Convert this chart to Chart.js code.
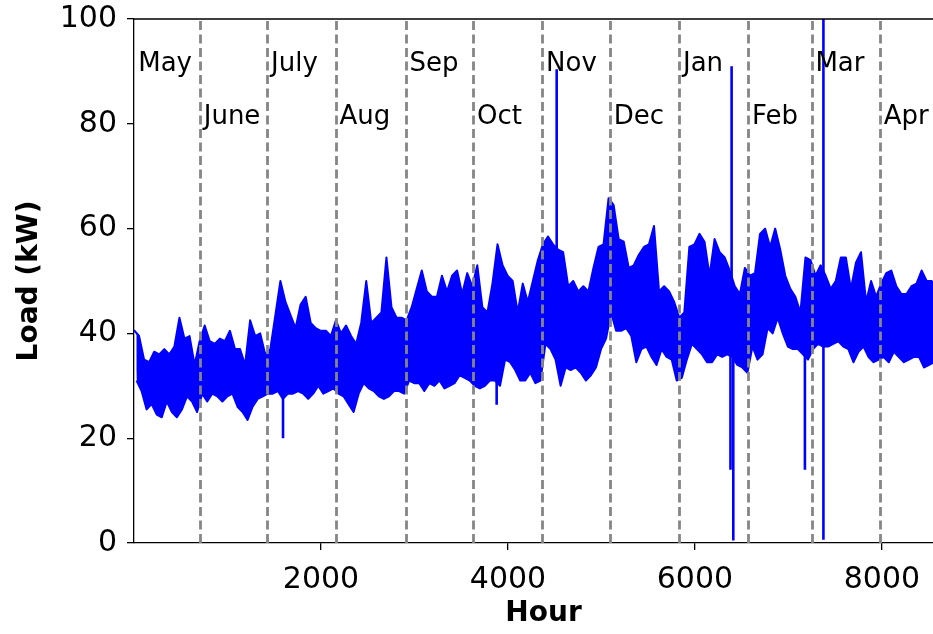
<!DOCTYPE html>
<html>
<head>
<meta charset="utf-8">
<script src="https://cdn.jsdelivr.net/npm/chart.js@4.4.0/dist/chart.umd.min.js"></script>
<style>
  html, body { margin: 0; padding: 0; background: #fff; overflow: hidden; }
  #wrap { width: 960px; height: 634px; }
</style>
</head>
<body>
<div id="wrap"><canvas id="loadChart" width="960" height="634"></canvas></div>
<script>
// Hourly load over one year, read off the plot as the daily high / low band,
// one reading every SAMPLE_STEP hours, plus the few isolated outliers.
const SAMPLE_STEP = 54;

const bandHighs = [
  40.6, 39.5, 35, 34.5, 36.5, 36, 37, 36, 37.5, 43,
  39, 39.5, 34, 38.5, 41.5, 38.5, 38, 39, 38.5, 40.5,
  37, 37, 34, 42.5, 39.5, 40, 36, 37, 43.5, 50,
  46, 43.5, 41, 45.5, 47, 42, 41, 40.5, 40.5, 39.5,
  42.5, 40, 41.5, 39.5, 38, 42, 50, 42, 43, 44,
  54.5, 45, 43, 43, 42.5, 45, 48.5, 52, 48, 47,
  47, 51, 48, 51, 52, 47.5, 51.5, 49, 53, 45,
  44, 49.5, 57, 53, 51, 50, 44, 49.5, 46, 50,
  54, 57, 58.5, 57, 56, 55.5, 49, 50, 48, 49,
  48, 52.5, 56.5, 57, 65.8, 64.5, 58, 57.5, 52.5, 53,
  55, 56.5, 57, 60.5, 48, 49, 48, 46, 43, 44,
  56.5, 57, 59, 57.5, 51, 58, 55.5, 54.5, 52, 49,
  47.5, 52.5, 51, 51.5, 59, 60, 56.5, 60, 56, 51,
  48.5, 47, 44, 54.5, 54, 51, 53, 51, 48.5, 50,
  54.5, 54.5, 48.5, 53.5, 55.5, 46, 50, 47, 49.5, 51.5,
  52, 49, 47.5, 47.5, 49, 49.5, 52, 50, 50, 48,
  47, 49
];

const bandLows = [
  31, 29, 25.5, 26.5, 24.5, 24, 27, 25, 24, 25.5,
  28, 27, 25, 28.5, 27, 28.5, 28, 27, 28, 28.5,
  26, 25, 23.5, 26, 27.5, 28, 28.5, 28.5, 29, 27.5,
  28.5, 28.5, 29, 28.5, 27.5, 28.5, 30, 28.5, 29, 29.5,
  28.5, 28, 26.5, 25, 28.5, 30.5, 29.5, 29, 28, 27.5,
  28, 29, 29, 28.5, 31, 30.5, 30.5, 29, 30.5, 30,
  31, 29.5, 30, 30.5, 32, 31.5, 31, 30, 29.5, 30,
  31, 31, 30, 35, 34.5, 33, 31, 31, 32.5, 30.5,
  31, 38, 37, 35, 30, 33.5, 33, 33.5, 32.5, 31,
  32, 33.5, 37, 39, 44, 40.5, 40.5, 41, 39.5, 34.5,
  37, 37.5, 35.5, 34, 37, 35.5, 35, 31, 31.5, 35,
  38, 37, 36, 34.5, 34.5, 36, 35.5, 36, 35.5, 34,
  33.5, 32.5, 37.5, 35, 36, 41, 40, 43, 40, 37.5,
  37, 37, 36, 35, 37, 38, 37.5, 37.5, 38, 38.5,
  37.5, 37, 34.5, 36.5, 37.5, 35.5, 34.5, 35, 35.5, 34.5,
  36.5, 35.5, 34.5, 35, 35.5, 35.5, 33.5, 34, 34.5, 35,
  34.5, 35
];

// isolated outliers: hour, band value they leave from, value they reach
const spikeHours = [1594, 3879, 4521, 6380, 6392, 6410, 7176, 7374];
const spikeFrom = [30, 32, 55, 38, 50, 38, 38, 105];
const spikeTo = [20, 26.4, 90.4, 14, 91, 0.5, 14, 0.6];

// month boundaries (hour) and the month names written beside them
const monthLines = [706, 1426, 2157, 2906, 3629, 4367, 5091, 5832, 6570, 7248, 7979];
const monthNames = ['May', 'June', 'July', 'Aug', 'Sep', 'Oct', 'Nov', 'Dec', 'Jan', 'Feb', 'Mar', 'Apr'];
const monthLabelX = [45, 746, 1466, 2197, 2946, 3669, 4407, 5131, 5872, 6610, 7288, 8019];
const monthLabelY = [90, 80, 90, 80, 90, 80, 90, 80, 90, 80, 90, 80];

const xTicks = [2000, 4000, 6000, 8000];

// build the series from the read values
const highPoints = bandHighs.map((v, i) => ({ x: i * SAMPLE_STEP, y: v }));
const lowPoints = bandLows.map((v, i) => ({ x: i * SAMPLE_STEP + SAMPLE_STEP / 2, y: v }));
const spikePoints = [];
spikeHours.forEach((h, i) => {
  spikePoints.push({ x: h, y: spikeFrom[i] }, { x: h, y: spikeTo[i] }, { x: h, y: null });
});

const FONT = '"DejaVu Sans", "Liberation Sans", sans-serif';
const BLUE = '#0000ff';

// dashed month lines, month names and the top/right frame
const monthMarks = {
  id: 'monthMarks',
  afterDatasetsDraw(chart) {
    const { ctx, chartArea, scales: { x, y } } = chart;
    ctx.save();
    ctx.strokeStyle = '#868686';
    ctx.lineWidth = 2.8;
    ctx.setLineDash([9, 4.5]);
    monthLines.forEach(h => {
      const px = Math.round(x.getPixelForValue(h)) + 0.5;
      ctx.beginPath();
      ctx.moveTo(px, chartArea.bottom);
      ctx.lineTo(px, chartArea.top);
      ctx.stroke();
    });
    ctx.setLineDash([]);

    ctx.fillStyle = '#000';
    ctx.font = '26px ' + FONT;
    ctx.textAlign = 'left';
    ctx.textBaseline = 'alphabetic';
    monthNames.forEach((m, i) => {
      ctx.fillText(m, x.getPixelForValue(monthLabelX[i]), y.getPixelForValue(monthLabelY[i]));
    });

    ctx.strokeStyle = '#000';
    ctx.lineWidth = 1.3;
    ctx.beginPath();
    ctx.moveTo(chartArea.left, chartArea.top);
    ctx.lineTo(chartArea.right, chartArea.top);
    ctx.lineTo(chartArea.right, chartArea.bottom);
    ctx.stroke();
    ctx.restore();
  }
};

const axisGrid = {
  drawOnChartArea: false,
  drawTicks: true,
  tickLength: 7,
  color: '#000',
  lineWidth: 1.3
};

const ctx = document.getElementById('loadChart').getContext('2d');
const loadChart = new Chart(ctx, {
  type: 'line',
  data: {
    datasets: [
      {
        label: 'Load high',
        data: highPoints,
        borderColor: BLUE,
        backgroundColor: BLUE,
        borderWidth: 2,
        borderJoinStyle: 'round',
        pointRadius: 0,
        tension: 0,
        fill: '+1'
      },
      {
        label: 'Load low',
        data: lowPoints,
        borderColor: BLUE,
        borderWidth: 2,
        borderJoinStyle: 'round',
        pointRadius: 0,
        tension: 0,
        fill: false
      },
      {
        label: 'Outliers',
        data: spikePoints,
        borderColor: BLUE,
        borderWidth: 2.6,
        pointRadius: 0,
        spanGaps: false,
        fill: false
      }
    ]
  },
  options: {
    responsive: false,
    animation: false,
    devicePixelRatio: 1,
    layout: { padding: { top: 19, right: 7, left: 0, bottom: 0 } },
    plugins: {
      legend: { display: false },
      tooltip: { enabled: false }
    },
    scales: {
      x: {
        type: 'linear',
        min: 0,
        max: 8760,
        afterFit: s => { s.height = 91; s.paddingLeft = 0; s.paddingRight = 0; },
        afterBuildTicks: s => { s.ticks = xTicks.map(v => ({ value: v })); },
        ticks: {
          color: '#000',
          font: { family: FONT, size: 30 },
          padding: 12,
          maxRotation: 0,
          callback: v => String(v)
        },
        grid: axisGrid,
        border: { display: true, color: '#000', width: 1.3 },
        title: {
          display: true,
          text: 'Hour',
          color: '#000',
          font: { family: FONT, size: 28, weight: 'bold' },
          padding: { top: 0, bottom: 3 }
        }
      },
      y: {
        min: 0,
        max: 100,
        afterFit: s => { s.width = 134; s.paddingTop = 0; s.paddingBottom = 0; },
        ticks: {
          stepSize: 20,
          color: '#000',
          font: { family: FONT, size: 30 },
          padding: 10
        },
        grid: axisGrid,
        border: { display: true, color: '#000', width: 1.3 },
        title: {
          display: true,
          text: 'Load (kW)',
          color: '#000',
          font: { family: FONT, size: 28, weight: 'bold' },
          padding: { top: 13, bottom: 0 }
        }
      }
    }
  },
  plugins: [monthMarks]
});
</script>
</body>
</html>
